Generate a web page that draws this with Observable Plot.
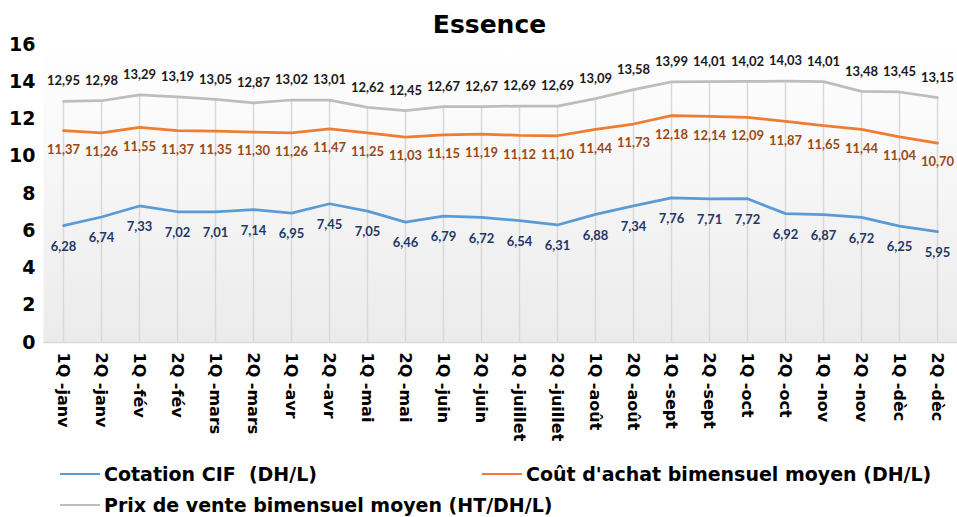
<!DOCTYPE html>
<html>
<head>
<meta charset="utf-8">
<script src="https://cdn.jsdelivr.net/npm/d3@7"></script>
<script src="https://cdn.jsdelivr.net/npm/@observablehq/plot@0.6"></script>
<style>
  html, body { margin: 0; padding: 0; background: #ffffff; }
  #wrap { width: 957px; height: 517px; position: relative; overflow: hidden; font-family: "DejaVu Sans", sans-serif; }
  #title { height: 30px; line-height: 30px; font-size: 25px; font-weight: bold; color: #000; text-align: center; position: relative; top: 10px; left: 11px; }
  #chart { height: 432px; }
  #legend { position: relative; height: 55px; font-size: 19px; font-weight: bold; color: #000; }
  .item { position: absolute; display: flex; align-items: center; white-space: pre; }
  .swatch { width: 40px; height: 2.5px; margin-right: 4px; }
</style>
</head>
<body>
<div id="wrap">
  <div id="title">Essence</div>
  <div id="chart"></div>
  <div id="legend"></div>
</div>
<script>
const categories = ["1Q -janv", "2Q -janv", "1Q -fév", "2Q -fév", "1Q -mars", "2Q -mars", "1Q -avr", "2Q -avr",
  "1Q -mai", "2Q -mai", "1Q -juin", "2Q -juin", "1Q -juillet", "2Q -juillet", "1Q -août", "2Q -août",
  "1Q -sept", "2Q -sept", "1Q -oct", "2Q -oct", "1Q -nov", "2Q -nov", "1Q -dèc", "2Q -dèc"];
const cotationCIF = [6.28, 6.74, 7.33, 7.02, 7.01, 7.14, 6.95, 7.45, 7.05, 6.46, 6.79, 6.72,
  6.54, 6.31, 6.88, 7.34, 7.76, 7.71, 7.72, 6.92, 6.87, 6.72, 6.25, 5.95];
const coutAchat = [11.37, 11.26, 11.55, 11.37, 11.35, 11.30, 11.26, 11.47, 11.25, 11.03, 11.15, 11.19,
  11.12, 11.10, 11.44, 11.73, 12.18, 12.14, 12.09, 11.87, 11.65, 11.44, 11.04, 10.70];
const prixVente = [12.95, 12.98, 13.29, 13.19, 13.05, 12.87, 13.02, 13.01, 12.62, 12.45, 12.67, 12.67,
  12.69, 12.69, 13.09, 13.58, 13.99, 14.01, 14.02, 14.03, 14.01, 13.48, 13.45, 13.15];
const seriesNames = ["Cotation CIF  (DH/L)", "Coût d'achat bimensuel moyen (DH/L)", "Prix de vente bimensuel moyen (HT/DH/L)"];
const seriesColors = ["#5b9bd5", "#ed7d31", "#bdbdbd"];
const labelColors = ["#1f3864", "#9a4a17", "#1a1a1a"];
const yTicks = [0, 2, 4, 6, 8, 10, 12, 14, 16];

const toRows = vals => vals.map((v, i) => ({cat: categories[i], v}));
const cifRows = toRows(cotationCIF);
const coutRows = toRows(coutAchat);
const prixRows = toRows(prixVente);
const fmt = d => d.v.toFixed(2).replace(".", ",");
const labelFont = {fontFamily: "Lato", fontSize: 13, fontWeight: "bold"};

const svg = Plot.plot({
  width: 957,
  height: 432,
  marginLeft: 43,
  marginRight: 0,
  marginTop: 14,
  marginBottom: 120,
  style: {fontFamily: "DejaVu Sans", background: "transparent", color: "#000"},
  x: {type: "point", domain: categories, padding: 0.5},
  y: {domain: [0, 16]},
  marks: [
    Plot.frame({fill: "url(#bgGrad)", stroke: null}),
    Plot.ruleX(prixRows, {x: "cat", y1: 0, y2: "v", stroke: "#d9d9d9", strokeWidth: 1.5}),
    Plot.ruleY([0], {stroke: "#d9d9d9", strokeWidth: 1.5}),
    Plot.line(prixRows, {x: "cat", y: "v", stroke: seriesColors[2], strokeWidth: 2.75}),
    Plot.line(coutRows, {x: "cat", y: "v", stroke: seriesColors[1], strokeWidth: 2.75}),
    Plot.line(cifRows, {x: "cat", y: "v", stroke: seriesColors[0], strokeWidth: 2.75}),
    Plot.text(prixRows, {x: "cat", y: "v", text: fmt, dy: -20, fill: labelColors[2], ...labelFont}),
    Plot.text(coutRows, {x: "cat", y: "v", text: fmt, dy: 19, fill: labelColors[1], ...labelFont}),
    Plot.text(cifRows, {x: "cat", y: "v", text: fmt, dy: 21, fill: labelColors[0], ...labelFont}),
    Plot.axisY({ticks: yTicks, tickSize: 0, tickPadding: 8, fontSize: 19, fontWeight: "bold", label: null}),
    Plot.axisX({tickRotate: 90, tickSize: 0, tickPadding: 10, fontSize: 16, fontWeight: "bold", label: null})
  ]
});
svg.insertAdjacentHTML("afterbegin",
  '<defs><linearGradient id="bgGrad" x1="0" y1="0" x2="0" y2="1">' +
  '<stop offset="0" stop-color="#ffffff"/><stop offset="1" stop-color="#ebebeb"/></linearGradient></defs>');
document.getElementById("chart").appendChild(svg);

const legendPos = [[60, 12], [482, 12], [60, 43]];
const legend = document.getElementById("legend");
seriesNames.forEach((name, i) => {
  const item = document.createElement("div");
  item.className = "item";
  item.style.left = legendPos[i][0] + "px";
  item.style.top = (legendPos[i][1] - 12) + "px";
  item.style.height = "24px";
  const sw = document.createElement("div");
  sw.className = "swatch";
  sw.style.background = seriesColors[i];
  const tx = document.createElement("span");
  tx.textContent = name;
  item.appendChild(sw);
  item.appendChild(tx);
  legend.appendChild(item);
});
</script>
</body>
</html>
